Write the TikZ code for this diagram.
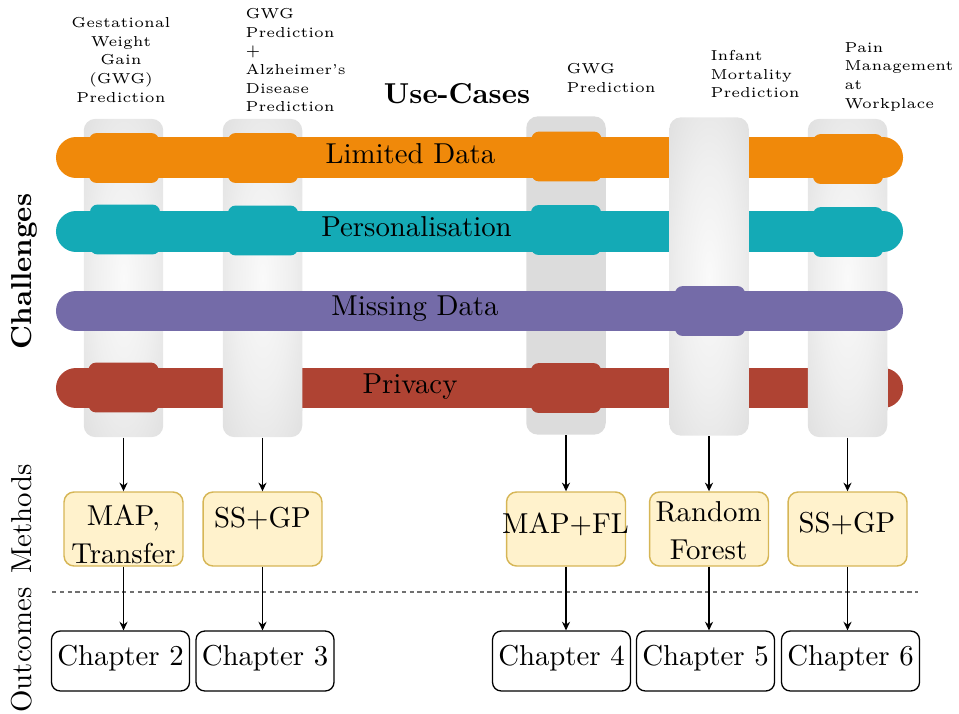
\documentclass[tikz,border=0pt]{standalone}
\usetikzlibrary{arrows.meta}

% challenge colours
\definecolor{limitedc}{HTML}{F0890A}
\definecolor{personc}{HTML}{14AAB6}
\definecolor{missingc}{HTML}{746BA8}
\definecolor{privacyc}{HTML}{AF4333}
% use-case pillars and method boxes
\definecolor{pillargray}{HTML}{DCDCDC}
\definecolor{methodfill}{HTML}{FFF2CC}
\definecolor{methoddraw}{HTML}{D6B656}
\definecolor{sepgray}{HTML}{707070}

% soft glow in the middle of a pillar, fading to grey at its edges
\pgfdeclareradialshading{pillarglow}{\pgfpoint{0bp}{0bp}}{%
  color(0bp)=(white!98!black); color(18bp)=(white!55!pillargray);
  color(40bp)=(pillargray); color(50bp)=(pillargray)}

\begin{document}
\begin{tikzpicture}[x=0.34722pt, y=-0.34722pt,
  pillarbase/.style={rectangle, rounded corners=4pt, inner sep=0pt,
    minimum width=27.6pt, minimum height=110.5pt},
  pillar/.style={pillarbase, shading=pillarglow},
  flatpillar/.style={pillarbase, fill=pillargray},
  bar/.style={line width=13.9pt, line cap=round},
  band/.style={rectangle, rounded corners=2.6pt, inner sep=0pt,
    minimum width=24.3pt, minimum height=17.3pt},
  mbox/.style={rectangle, rounded corners=3.5pt, inner sep=0pt,
    minimum width=41.3pt, minimum height=25.7pt,
    fill=methodfill, draw=methoddraw, line width=0.5pt},
  chbox/.style={rectangle, rounded corners=3pt, inner sep=0pt,
    minimum width=47.9pt, minimum height=20.8pt, text height=6.94pt,
    text depth=3.9pt, draw=black, line width=0.45pt},
  uclabel/.style={inner sep=0pt, font=\fontsize{5}{6.45}\selectfont},
  flow/.style={-{Stealth[length=3pt,width=2.8pt]}, line width=0.5pt},
  sepline/.style={sepgray, line width=0.45pt, dash pattern=on 1.5pt off 1.2pt}]

\useasboundingbox (0,0) rectangle (959,713);

% ---- use-case pillars ----
\node[pillar]     (p1) at (123.5,278) {};
\node[pillar]     (p2) at (262.5,278) {};
\node[flatpillar] (p3) at (566,275.5) {};
\node[pillar]     (p4) at (709,276.5) {};
\node[pillar]     (p5) at (847.5,278) {};

% ---- challenge bars ----
\coordinate (barL) at (76,0);
\coordinate (barR) at (883,0);
\draw[bar, limitedc] (barL |- 0,157.5) -- (barR |- 0,157.5);
\draw[bar, personc]  (barL |- 0,231.5) -- (barR |- 0,231.5);
\draw[bar, privacyc] (barL |- 0,388)   -- (barR |- 0,388);

% pillars passing in front of a bar
\begin{scope}
  \clip (660,136) rectangle (760,179);
  \node[pillar] (p4lim) at (p4) {};
\end{scope}
\begin{scope}
  \clip (660,210) rectangle (760,253);
  \node[pillar] (p4per) at (p4) {};
\end{scope}
\begin{scope}
  \clip (200,366) rectangle (320,410);
  \node[pillar] (p2pri) at (p2) {};
\end{scope}
\begin{scope}
  \clip (660,366) rectangle (760,410);
  \node[pillar] (p4pri) at (p4) {};
\end{scope}
\begin{scope}
  \clip (800,366) rectangle (887.5,410);
  \node[pillar] (p5pri) at (p5) {};
\end{scope}

\draw[bar, missingc] (barL |- 0,311) -- (barR |- 0,311);

% ---- bands where a bar wraps round a pillar ----
\node[band, fill=limitedc] (b11) at (124,158) {};
\node[band, fill=limitedc] (b12) at (263,158) {};
\node[band, fill=limitedc] (b13) at (566.5,156.5) {};
\node[band, fill=limitedc] (b15) at (848,159) {};
\node[band, fill=personc]  (b21) at (125,229.5) {};
\node[band, fill=personc]  (b22) at (263,230.5) {};
\node[band, fill=personc]  (b23) at (566,230) {};
\node[band, fill=personc]  (b25) at (848,232) {};
\node[band, fill=missingc] (b34) at (710,311) {};
\node[band, fill=privacyc] (b41) at (123.5,387.5) {};
\node[band, fill=privacyc] (b43) at (566,388) {};

% ---- bar titles ----
\node[anchor=base] (tlim) at (410.5,163) {Limited Data};
\node[anchor=base] (tper) at (416.5,236) {Personalisation};
\node[anchor=base] (tmis) at (415,315) {Missing Data};
\node[anchor=base] (tpri) at (410,393) {Privacy};

% ---- use-case titles ----
\node[anchor=base, font=\bfseries] (usecases) at (457,103) {Use-Cases};
\node[uclabel, align=center, anchor=north] (u1) at (121,17)
  {Gestational\\Weight\\Gain\\(GWG)\\Prediction};
\node[uclabel, align=left, anchor=north west] (u2) at (245,8)
  {GWG\\Prediction\\+\\Alzheimer's\\Disease\\Prediction};
\node[uclabel, align=left, anchor=north west] (u3) at (566,63)
  {GWG\\Prediction};
\node[uclabel, align=left, anchor=north west] (u4) at (710,50)
  {Infant\\Mortality\\Prediction};
\node[uclabel, align=left, anchor=north west] (u5) at (844,42)
  {Pain\\Management\\at\\Workplace};

% ---- row titles ----
\node[rotate=90, font=\bfseries] (challenges) at (24,271.5) {Challenges};
\node[rotate=90] (methods)  at (22,519) {Methods};
\node[rotate=90] (outcomes) at (22,650) {Outcomes};

% ---- methods ----
\node[mbox] (m1) at (123.5,529) {};
\node[mbox] (m2) at (262.5,529) {};
\node[mbox] (m3) at (566,529) {};
\node[mbox] (m4) at (709,529) {};
\node[mbox] (m5) at (847.5,529) {};
\node[align=center, inner sep=0pt, font=\fontsize{10}{13}\selectfont] (m1t) at (123.5,534.5) {MAP,\\Transfer};
\node[anchor=base, inner sep=0pt] (m2t) at (262.5,527) {SS+GP};
\node[anchor=base, inner sep=0pt] (m3t) at (565.5,533) {MAP+FL};
\node[align=center, inner sep=0pt, font=\fontsize{10}{13}\selectfont] (m4t) at (708.5,530.5) {Random\\Forest};
\node[anchor=base, inner sep=0pt] (m5t) at (847,532) {SS+GP};

% ---- separator ----
\coordinate (sepL) at (52,592);
\coordinate (sepR) at (918,592);
\draw[sepline] (sepL) -- (sepR);

% ---- outcomes ----
\node[chbox] (c2) at (120.5,661) {Chapter 2};
\node[chbox] (c3) at (265,661)   {Chapter 3};
\node[chbox] (c4) at (561.5,661) {Chapter 4};
\node[chbox] (c5) at (705.5,661) {Chapter 5};
\node[chbox] (c6) at (850.5,661) {Chapter 6};

% ---- flow ----
\draw[flow] (p1.south) -- (p1.south |- m1.north);
\draw[flow] (p2.south) -- (p2.south |- m2.north);
\draw[flow] (p3.south) -- (p3.south |- m3.north);
\draw[flow] (p4.south) -- (p4.south |- m4.north);
\draw[flow] (p5.south) -- (p5.south |- m5.north);
\draw[flow] (m1.south) -- (m1.south |- c2.north);
\draw[flow] (m2.south) -- (m2.south |- c3.north);
\draw[flow] (m3.south) -- (m3.south |- c4.north);
\draw[flow] (m4.south) -- (m4.south |- c5.north);
\draw[flow] (m5.south) -- (m5.south |- c6.north);

\end{tikzpicture}
\end{document}
